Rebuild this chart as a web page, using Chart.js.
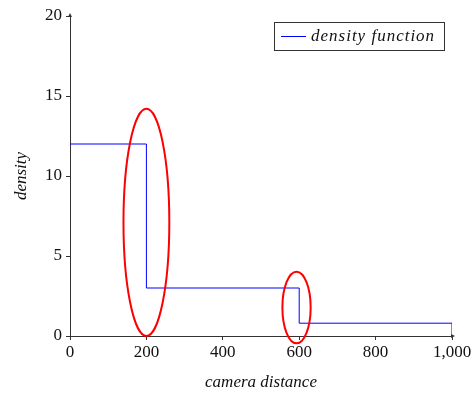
<!DOCTYPE html>
<html>
<head>
<meta charset="utf-8">
<script src="https://cdn.jsdelivr.net/npm/chart.js@4/dist/chart.umd.min.js"></script>
<style>
  html, body { margin: 0; padding: 0; background: #fff; }
  #wrap { width: 474px; height: 397px; }
</style>
</head>
<body>
<div id="wrap"><canvas id="chart"></canvas></div>
<script>
// step breakpoints (camera distance) and density levels
const breakX = [0, 200, 600, 1000];
const levelY = [12, 3, 0.8, 0];

// highlighted discontinuities (data units)
const ellipseCx = [200, 593];
const ellipseCy = [7.1, 1.78];
const ellipseRx = [60, 37];
const ellipseRy = [7.1, 2.24];

const serif = '"Liberation Serif", "DejaVu Serif", serif';
const axisColor = '#333';

// ellipses + legend box + axis arrows
const overlay = {
  id: 'overlay',
  afterDraw(chart) {
    const ctx = chart.ctx;
    const xs = chart.scales.x, ys = chart.scales.y;
    const area = chart.chartArea;

    ctx.save();
    // red ellipses
    ctx.strokeStyle = '#ff0000';
    ctx.lineWidth = 2;
    ellipseCx.forEach((cx, i) => {
      const px = xs.getPixelForValue(cx);
      const py = ys.getPixelForValue(ellipseCy[i]);
      const rx = xs.getPixelForValue(cx + ellipseRx[i]) - px;
      const ry = py - ys.getPixelForValue(ellipseCy[i] + ellipseRy[i]);
      ctx.beginPath();
      ctx.ellipse(px, py, rx, ry, 0, 0, Math.PI * 2);
      ctx.stroke();
    });

    // arrow heads
    ctx.fillStyle = axisColor;
    ctx.beginPath();
    ctx.moveTo(area.left, area.top - 3);
    ctx.lineTo(area.left - 2, area.top + 1);
    ctx.lineTo(area.left + 2, area.top + 1);
    ctx.closePath();
    ctx.fill();
    ctx.beginPath();
    ctx.moveTo(area.right + 3, area.bottom);
    ctx.lineTo(area.right - 1, area.bottom - 2);
    ctx.lineTo(area.right - 1, area.bottom + 2);
    ctx.closePath();
    ctx.fill();

    // legend
    const ds = chart.data.datasets[0];
    ctx.fillStyle = '#fff';
    ctx.fillRect(274.5, 22.5, 170, 28);
    ctx.strokeStyle = '#333';
    ctx.lineWidth = 1;
    ctx.strokeRect(274.5, 22.5, 170, 28);
    ctx.strokeStyle = ds.borderColor;
    ctx.beginPath();
    ctx.moveTo(281, 36.5);
    ctx.lineTo(306, 36.5);
    ctx.stroke();
    ctx.fillStyle = '#111';
    ctx.font = 'italic 17px ' + serif;
    ctx.letterSpacing = '1px';
    ctx.textBaseline = 'middle';
    ctx.fillText(ds.label, 311, 37);
    ctx.restore();
  }
};

new Chart(document.getElementById('chart'), {
  type: 'line',
  data: {
    datasets: [{
      label: 'density function',
      data: breakX.map((x, i) => ({ x: x, y: levelY[i] })),
      stepped: 'before',
      borderColor: '#0000ff',
      borderWidth: 1,
      pointRadius: 0,
      fill: false
    }]
  },
  options: {
    responsive: true,
    maintainAspectRatio: false,
    animation: false,
    layout: { padding: { left: 0, top: 16, right: 22, bottom: 0 } },
    plugins: { legend: { display: false }, tooltip: { enabled: false } },
    scales: {
      x: {
        type: 'linear',
        min: 0,
        max: 1000,
        afterFit: s => { s.height = 61; },
        ticks: { stepSize: 200, color: '#111', font: { family: serif, size: 17 }, padding: 2, maxRotation: 0 },
        grid: { drawOnChartArea: false, tickLength: 4, color: axisColor },
        border: { color: axisColor, width: 1 },
        title: { display: true, text: 'camera distance', color: '#111', font: { family: serif, size: 17, style: 'italic' }, padding: { top: 0 } }
      },
      y: {
        min: 0,
        max: 20,
        afterFit: s => { s.width = 70; },
        ticks: { stepSize: 5, color: '#111', font: { family: serif, size: 17 }, padding: 4 },
        grid: { drawOnChartArea: false, tickLength: 4, color: axisColor },
        border: { color: axisColor, width: 1 },
        title: { display: true, text: 'density', color: '#111', font: { family: serif, size: 17, style: 'italic' }, padding: { top: 11, bottom: 0 } }
      }
    }
  },
  plugins: [overlay]
});
</script>
</body>
</html>
